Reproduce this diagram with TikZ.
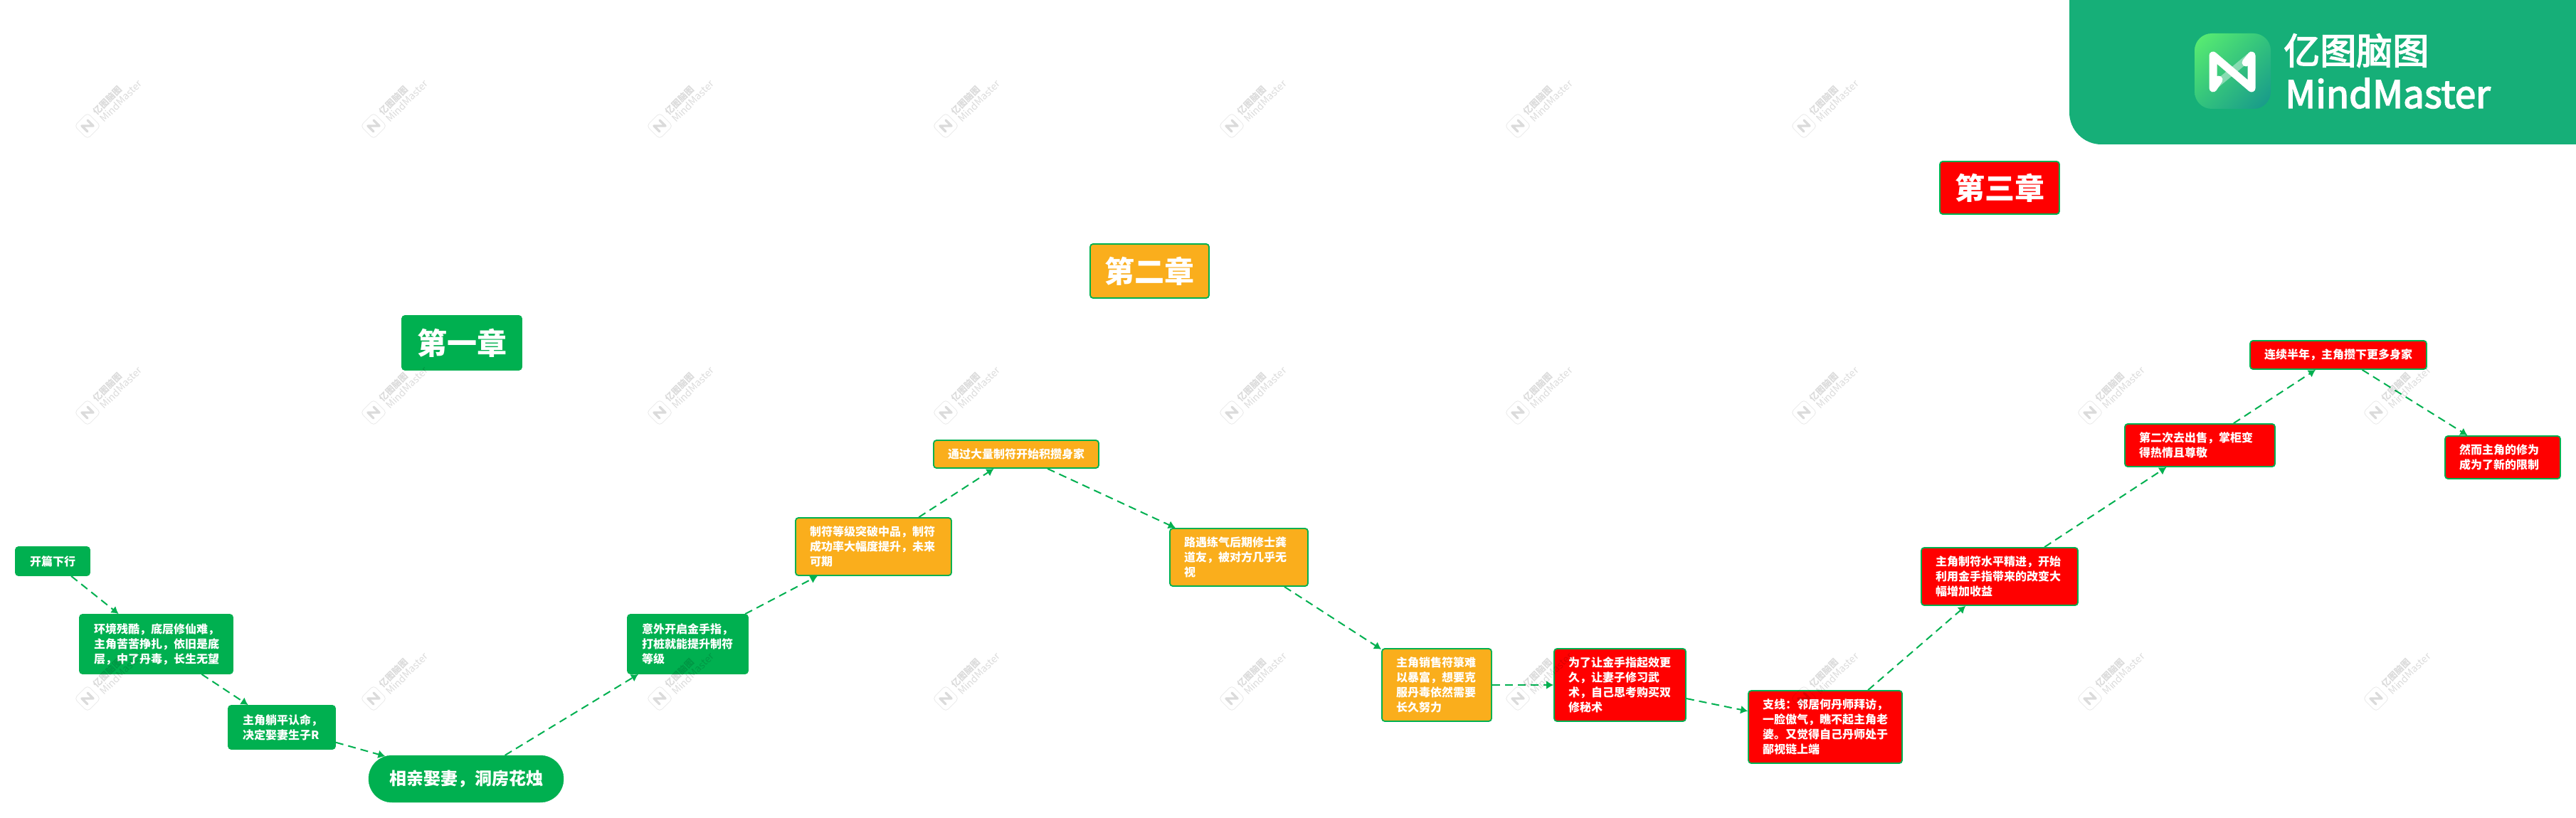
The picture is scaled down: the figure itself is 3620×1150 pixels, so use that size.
\documentclass[tikz,border=0pt]{standalone}
\usepackage{fontspec}
\setmainfont{Noto Sans CJK SC}
\newfontfamily\logofont[FakeBold=3]{Noto Sans CJK SC}
\usetikzlibrary{arrows.meta,shapes.misc,shadings}
\definecolor{gr}{HTML}{00B050}
\definecolor{orangefill}{HTML}{FAAE1C}
\definecolor{redfill}{HTML}{FF0000}
\definecolor{banner}{HTML}{16AF78}
\definecolor{lga}{HTML}{5CF070}
\definecolor{lgb}{HTML}{32C37D}
\definecolor{lgc}{HTML}{15968C}
\tikzset{
  nbox/.style={draw=gr,line width=1.8pt,rounded corners=4pt,text=white,font=\bfseries\fontsize{16}{21}\selectfont,align=left,inner ysep=0pt,inner xsep=20pt},
  chap/.style={nbox,font=\bfseries\fontsize{42}{48}\selectfont,align=center,inner xsep=0pt},
  greenbox/.style={fill=gr},
  orangebox/.style={fill=orangefill},
  redbox/.style={fill=redfill},
  link/.style={draw=gr,line width=2pt,dash pattern=on 11pt off 7pt,-{Latex[length=10pt,width=12pt]}},
  wmtext/.style={text=black,text opacity=.14,inner sep=0pt,rotate=45},
}
\newcommand\bx[7]{%
  \pgfmathsetmacro\bw{#4-#2}\pgfmathsetmacro\bh{#5-#3}\pgfmathsetmacro\tw{\bw-40}%
  \node[nbox,#6,minimum width=\bw pt,minimum height=\bh pt,text width=\tw pt] (#1) at ({(#2+#4)/2},{(#3+#5)/2}) {#7};}
\newcommand\ch[7]{%
  \pgfmathsetmacro\bw{#4-#2}\pgfmathsetmacro\bh{#5-#3}%
  \node[chap,#6,minimum width=\bw pt,minimum height=\bh pt] (#1) at ({(#2+#4)/2},{(#3+#5)/2}) {#7};}
\begin{document}
\begin{tikzpicture}[x=1pt,y=-1pt]
\useasboundingbox (0,0) rectangle (3620,1150);
\fill[white] (0,0) rectangle (3620,1150);
% chapter titles
\ch{c1}{565}{444}{733}{520}{greenbox}{第一章}
\ch{c2}{1532}{343}{1699}{419}{orangebox}{第二章}
\ch{c3}{2726}{227}{2894}{301}{redbox}{第三章}
% nodes
\bx{a1}{22}{769}{126}{809}{greenbox}{开篇下行}
\bx{a2}{112}{864}{327}{947}{greenbox}{环境残酷，底层修仙难，\\主角苦苦挣扎，依旧是底\\层，中了丹毒，长生无望}
\bx{a3}{321}{992}{471}{1053}{greenbox}{主角躺平认命，\\决定娶妻生子R}
\node[draw=gr,fill=gr,rounded rectangle,rounded rectangle arc length=180,minimum width=274pt,minimum height=66pt,text=white,inner sep=0pt,font=\bfseries\fontsize{24}{30}\selectfont] (a4) at (655,1095) {相亲娶妻，洞房花烛};
\bx{a5}{882}{864}{1051}{947}{greenbox}{意外开启金手指，\\打桩就能提升制符\\等级}
\bx{b1}{1118}{728}{1337}{809}{orangebox}{制符等级突破中品，制符\\成功率大幅度提升，未来\\可期}
\bx{b2}{1312}{619}{1544}{658}{orangebox}{通过大量制符开始积攒身家}
\bx{b3}{1644}{743}{1838}{824}{orangebox}{路遇练气后期修士龚\\道友，被对方几乎无\\视}
\bx{b4}{1942}{912}{2096}{1014}{orangebox}{主角销售符箓难\\以暴富，想要克\\服丹毒依然需要\\长久努力}
\bx{d1}{2184}{912}{2369}{1014}{redbox}{为了让金手指起效更\\久，让妻子修习武\\术，自己思考购买双\\修秘术}
\bx{d2}{2457}{971}{2673}{1073}{redbox}{支线：邻居何丹师拜访，\\一脸傲气，瞧不起主角老\\婆。又觉得自己丹师处于\\鄙视链上端}
\bx{d3}{2700}{770}{2920}{851}{redbox}{主角制符水平精进，开始\\利用金手指带来的改变大\\幅增加收益}
\bx{d4}{2986}{596}{3197}{656}{redbox}{第二次去出售，掌柜变\\得热情且尊敬}
\bx{d5}{3162}{479}{3410}{519}{redbox}{连续半年，主角攒下更多身家}
\bx{d6}{3436}{613}{3598}{673}{redbox}{然而主角的修为\\成为了新的限制}
% connectors
\foreach \p/\q in {a1/a2,a2/a3,a3/a4,a4/a5,a5/b1,b1/b2,b2/b3,b3/b4,b4/d1,d1/d2,d2/d3,d3/d4,d4/d5,d5/d6}
  \draw[link] (\p) -- (\q);
% watermarks
\foreach \cy in {177,580,982}
  \foreach \cx in {123,525,927,1329,1731,2133,2535,2937,3339}{
    \begin{scope}[shift={(\cx,\cy)}]
      \node[draw=black,draw opacity=.09,line width=.8pt,rounded corners=5pt,rotate=45,minimum size=26pt,inner sep=0pt] (wd\cx x\cy) at (0,0) {};
      \draw[black,opacity=.14,line width=3.4pt,line cap=round,line join=round] (0,8) -- (-8,0) -- (8,0) -- (0,-8);
      \node[wmtext,font=\bfseries\fontsize{12.5}{14}\selectfont] (wa\cx x\cy) at (28,-36) {亿图脑图};
      \node[wmtext,font=\fontsize{14}{16}\selectfont] (wb\cx x\cy) at (47,-35) {MindMaster};
    \end{scope}
  }
% banner
\fill[banner,rounded corners=45pt] (2908,-80) -- (2908,203) -- (3700,203) -- (3700,-80) -- cycle;
\shade[rounded corners=24pt,upper left=lga,upper right=lgb,lower left=lgb,lower right=lgc] (3084,47) rectangle (3191,153);
\draw[white,opacity=.4,line width=10pt] (3113,120) -- (3161,80);
\draw[white,line width=11pt,line cap=round,line join=round] (3118,112) -- (3110,124) -- (3110,78) -- (3164,124) -- (3164,78) -- (3156,88);
\node[anchor=west,text=white,inner sep=0pt,font=\logofont\fontsize{51}{56}\selectfont] (logoa) at (3209,71) {亿图脑图};
\node[anchor=west,text=white,inner sep=0pt,font=\logofont\fontsize{53}{56}\selectfont] (logob) at (3211,131) {MindMaster};
\end{tikzpicture}
\end{document}
